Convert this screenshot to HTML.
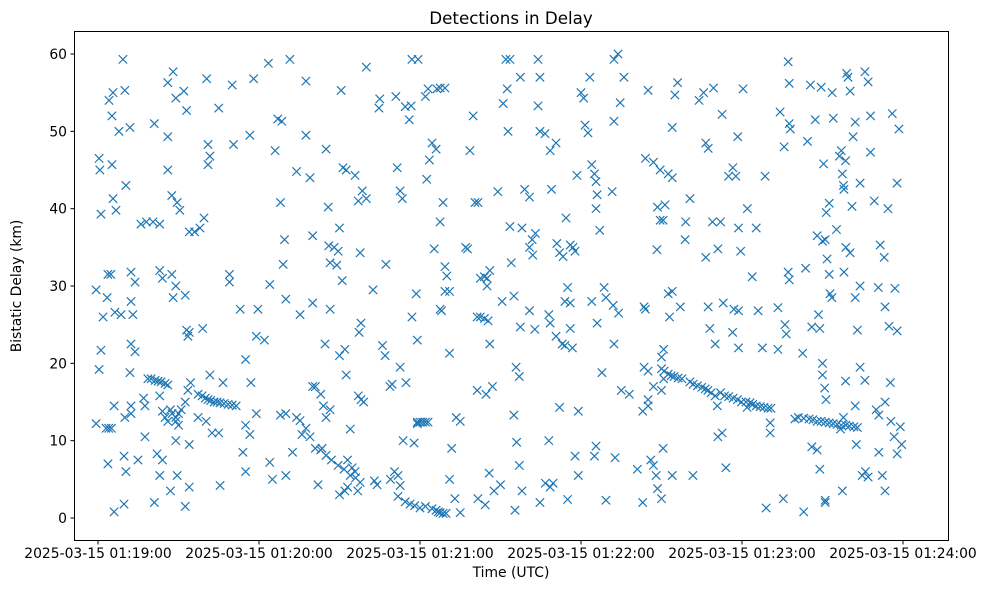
<!DOCTYPE html>
<html><head><meta charset="utf-8">
<style>
html,body{margin:0;padding:0;background:#fff;}
svg text{font-family:"DejaVu Sans","Liberation Sans",sans-serif;fill:#000;}
</style></head>
<body>
<svg id="chart" width="984" height="590" xmlns="http://www.w3.org/2000/svg">
<rect x="0" y="0" width="984" height="590" fill="#fff"/>
<text x="511" y="24" font-size="16.7" text-anchor="middle">Detections in Delay</text>
<g id="marks"></g>
<rect x="74.5" y="31.5" width="874" height="509" fill="none" stroke="#000" stroke-width="1"/>
<g id="xaxis"></g>
<g id="yaxis"></g>
<text x="511" y="577" font-size="13.9" text-anchor="middle">Time (UTC)</text>
<text transform="translate(21,286) rotate(-90)" font-size="13.9" text-anchor="middle">Bistatic Delay (km)</text>
</svg>
<script>
// seconds after 2025-03-15 01:19:00, bistatic delay (km)
const detections = [
[-0.7,29.5],[0.4,46.5],[0.7,45],[1.1,39.3],[1.1,21.7],[0.4,19.2],[-0.7,12.2],[1.9,26],[3.4,28.5],[3.7,31.5],[4.8,31.5],[3,11.6],[4,11.6],[5,11.6],[3.7,7],[4.1,54],[5.2,52],[5.6,55],[5.2,45.7],[5.6,41.3],[6.7,39.8],[6.3,26.6],[6,14.5],[6,0.8],[7.8,50],[9.3,59.3],[10,55.3],[8.6,26.3],[10,13],[9.7,8],[10.4,6],[9.7,1.8],[10.4,43],[11.9,50.5],[12.3,31.8],[12.3,28],[13,26.3],[11.9,18.8],[12.3,22.5],[13.8,21.5],[13.8,30.5],[12.3,14.5],[12.3,13.5],[14.9,7.5],[17.5,10.5],
[16,38],[18,38.3],[20.5,38.3],[23,38],[21,51],[26,56.3],[28,57.7],[29,54.3],[32,55.2],[33,52.7],[26,49.3],[26,45],[27.5,41.7],[29.5,40.8],[30.5,39.8],[34,37],[36,37],[38,37.5],[39.5,38.8],[23,32],[24,31],[27.5,31.5],[29,30],[28,28.5],[32.5,28.8],[33,24.3],[34,24],[33.5,23.5],[39,24.5],[17,15.5],[17.5,14.5],[22,8.3],[24,7.5],[23,5.5],[21,2],[27,3.5],[29.5,5.5],[32.5,1.5],[34,4],[34,9.5],[29,10],[26,12.5],
[18.6,18],[19.8,18],[21.3,17.8],[22.4,17.7],[23.5,17.6],[25,17.4],[26,17.2],[23,15.8],[24,13.8],[25,13],[27,14],[27.6,13.5],[29,13],[30,13.5],[31,14],[32.5,15],[33.5,16.5],[34.5,17.5],[29,12.5],[30,12],
[37.3,16],[38.8,15.8],[40,15.5],[41,15.3],[42,15.2],[43.3,15],[44.4,15],[45.5,14.9],[47,14.8],[48.5,14.7],[50,14.6],[51.5,14.5],[41.7,18.5],[37.3,13],[40.3,12.5],[42.5,11],[45,11],[45.5,4.2],[46.6,17.5],[41,45.7],[41.7,46.8],[41,48.3],[40.5,56.8],[45,53],[50,56],[50.5,48.3],[49,31.5],[49,30.5],[53,27],[55,20.5],[54,8.5],[55,12],[56.6,10.8],[55,6],[56.6,49.5],[58,56.8],[57,17.5],[59,23.5],[59.6,27],[59,13.5],
[62,23],[64,30.2],[63.5,58.8],[66,47.5],[67,51.6],[68.5,51.3],[68,40.8],[69.5,36],[69,32.8],[70,28.3],[68,13.3],[70,13.5],[64,7.2],[65,5],[70,5.5],[71.5,59.3],[74,44.8],[75.3,26.3],[76,10.8],[74,13],[72.5,8.5],[77.5,56.5],[77.5,49.5],[79,44],[80,36.5],[80,27.8],[82,4.3],[85,47.7],[85.8,40.2],[86,35.2],[86.5,33],[86.5,27],[84.6,22.5],[86.5,14],[88,35],[89.5,34.5],[89,32.7],[90.6,55.3],[91.3,45.3],[92.5,45],[90,37.5],[91,30.7],[90,21],[92,21.8],[92.5,18.5],[94,11.5],[95.8,44.3],[97,41],[98.5,42.3],[97.7,34.3],[97.3,24],[98,25.2],[97,15.8],[98,15.3],[99,15],[100,58.3],[100,41.3],[102.5,29.5],[104.7,53],[105,54.2],[106,22.3],[107,21],[107.3,32.8],[108.8,17],[109.6,17.3],[111,54.5],[111.5,45.3],[112.6,42.3],[113.4,41.3],[114.5,53.2],[116,51.5],[116.7,53.3],[117,59.3],[112.6,19.5],[114.8,17.5],[113.7,10],[117,26],[118.6,29],[119,23],[117.8,9.7],[119,12.2],
[75.3,12.6],[77.5,11.6],[79,10.5],[81,9],[83,8.8],[85,8.1],[87,7.5],[89.5,6.8],[91.7,6.3],[94,5.5],[96,5.2],[97.7,4.6],[103,4.8],[104,4.3],[109,5],[110.5,6],[111.8,5.5],[112.6,4.2],[111.8,2.8],[114.5,2.1],[116.3,1.8],[118,1.6],[120,1.3],[122,1.5],[124.5,1.2],[126,1],[126.8,0.8],[127.5,0.7],[128.6,0.6],[129.7,0.6],
[80,17],[81,17],[83,16],[84,14.5],[85,13],[83.5,9],[93,7.5],[94.7,6.5],[95.8,6],[96.8,3.5],[90,3],[92,3.5],[93,4],
[119,12.4],[120,12.4],[121,12.4],[122,12.4],[123,12.4],
[119.3,59.3],[122,54.5],[123,55.5],[124.5,48.5],[126,47.7],[127.5,55.6],[129.3,55.6],[126.3,55.5],[123.5,46.3],[122.5,43.8],[125.3,34.8],[127.5,38.3],[128.6,40.8],[129.3,29.3],[131,29.3],[127.5,27],[129.3,32.5],[130,31.3],[131,21.3],[133.5,13],[135,12.5],[133,2.5],[135,0.7],[131,5],[131.8,9],[128,26.8],[137,35],[137.7,34.8],[138.6,47.5],[139.8,52],[140.5,40.8],[141.6,40.8],[142.5,31],[144,31.2],[145,31],[146,32],[145,30],[141.3,26],[142.5,26],[144,25.8],[145.4,25.5],[146,22.5],[147,17],[144.6,16],[145.8,5.8],[141.3,16.5],[144.3,1.7],[141.6,2.5],[147.6,3.5],[149,42.2],[150.6,28],[150,4.3],[152.5,55.5],[152,59.3],[153.5,59.3],[151,53.6],[152.8,50],[153.5,37.7],[154,33],[155,28.7],[155.8,19.5],[157,18.3],[155,13.3],[156,9.8],[157.4,24.7],[155.4,1],[157,6.8],[158,3.5],[159,42.5],[160.8,41.5],[158,37.5],[160.8,35],[157.4,57],[164.7,57],[164,59.3],[161.8,36],[163,36.8],[162,34],[160.8,26.8],[162.8,24.4],[164,53.3],[164.7,50],[166.6,49.7],[168.5,47.5],[170.7,48.5],[169,42.5],[171,35.5],[172,34.3],[173.3,33.8],[174.4,38.8],[176,35.3],[177,35],[177.8,34.5],[178.5,44.3],[180,55],[181,54.3],[181.5,50.8],[176,27.8],[175,29.8],[176.8,22],[176,24.5],[174,28],[174,22.3],[168,26.3],[168.5,25.2],[170.7,23.5],[173,22.5],[164.7,2],[166.7,4.5],[168.5,4],[169.6,4.5],[168,10],[172,14.3],[175,2.4],[177.8,8],[179,13.8],[179,5.5],
[182.6,49.8],[183.3,57],[184,45.7],[185.6,43.5],[185,44.5],[186,41.8],[185.6,40],[187,37.2],[184,28],[186,25.2],[188.6,29.8],[189.3,28.5],[187.8,18.8],[185.6,9.3],[185,8],[189.3,2.3],[191.6,42.2],[192,27.5],[192.3,22.5],[192.3,59.3],[193.8,60],[192.3,51.3],[194.6,53.7],[196,57],[194,26.5],[195,16.5],[192.7,7.8],[198,16],[201,6.3],[203,2],[204,46.5],[205,55.3],[203,13.8],[205,15.3],[203.5,27.3],[204,27],[203.5,19.5],[205,19],[206,7.5],[208,5.5],[207,6.8],[208.5,3.8],[210,2.5],[207,46],[209.5,45],[208.5,40.2],[209.5,38.5],[210.6,38.5],[208.3,34.7],[211.3,40.5],[212.5,44.5],[214,44],[215,54.7],[216,56.3],[214,50.5],[210.8,21.8],[210,20.8],[210.8,18],[210,16.5],[210.6,9],[212.5,29],[214,29.3],[217,27.3],[218.8,36],[219,38.3],[220.6,41.3],[214,5.5],[221.7,5.5],[224,54],[225.7,55],[226.5,48.5],[227.4,47.8],[229.4,55.6],[232.6,52.2],[226.5,33.7],[227.4,27.3],[228,24.5],[230,22.5],[229,38.3],[231,34.8],[232,38.3],[233,27.8],[231,10.5],[232.6,11],[234,6.5],[235,44.2],[236.6,45.3],[237.7,44.2],[238.4,49.3],[240.4,55.5],[238.7,37.5],[239.5,34.5],[238.7,26.8],[238.7,22],[236.5,24],[237,27],
[210,19.3],[211,19],[212.5,18.6],[213.6,18.4],[214.7,18.3],[216.2,18.1],[217.6,18],[220.6,17.6],[221.8,17.3],[223.4,17.1],[225,16.9],[226.3,16.7],[227.3,16.5],[228.5,16.2],[230,15.8],[230.8,14.5],[232,16.2],[233.5,15.8],[235,15.7],[236.7,15.5],[238.3,15.3],[239.8,15],[241.5,15],[243,14.9],[241.9,14.3],[244,14.7],[245.3,14.5],[246.8,14.4],[248.2,14.3],[249.7,14.2],[250.8,14.2],[213,26],[207,17],[205,14.5],
[242,40],[243.8,31.2],[245.3,37.5],[246,26.8],[247.6,22],[248.6,44.2],[250.5,11],[250.5,12.3],[249,1.3],[253.4,21.8],[253.4,27.2],[254.2,52.5],[255.7,48],[256,25],[255.4,2.5],[257.2,59],[257.6,56.2],[257.6,51],[258,50.3],[257.6,30.8],[257.2,31.8],[256.5,23.8],[262.6,21.3],[263,0.8],[263.7,32.3],[264.4,48.7],[265.5,56],[266,24.7],[267.3,51.5],[268.5,26.3],[268,36.5],[269.5,55.7],[270.4,45.8],[270,35.8],[271,36],[271.7,33.5],[272.5,31.5],[271.4,39.5],[272.5,40.7],[273.6,55],[274,51.7],[270,20],[269,24.5],[270.8,16.8],[271.3,15.3],[270,18.5],[268,8.8],[271,2.3],[275.2,37.3],[272.8,29],[273.5,28.5],[276.3,46.8],[277,47.5],[277.4,44.5],[277.8,43],[278,42.5],[278.6,46.2],[279,57.5],[279.5,57],[280.3,55.2],[278,31.8],[278.7,35],[280.3,34.3],[281,40.3],[281.4,49.3],[282.2,51.2],[284,43.3],[284,30],[282.2,28.5],[283,24.3],[282.6,9.5],[285.8,57.7],[287,56.4],[287.9,47.3],[287.9,52],[289.3,41],[290.8,29.8],[291.5,35.3],[293,33.7],[293.3,27.3],[294.8,24.8],[296,52.3],[294.4,40],[295.3,17.5],[293.3,15],[290,14],[291,13.3],[292.3,5.5],[293.3,3.5],[284,19.5],[285.8,17.8],[282.2,14.5],[284.8,5.5],[286,6],[287,5.3],[291,8.5],[295.5,12.5],[296.7,10.5],[297.8,8.3],[299,11.8],[299.5,9.5],[297.8,24.2],[297,29.7],[297.8,43.3],[298.5,50.3],[278.6,17.7],[277.4,3.5],[277.8,13],[276.7,11.5],
[261,13],[263,12.9],[265,12.8],[266.4,12.7],[268,12.5],[269.5,12.5],[271,12.4],[272.5,12.3],[274,12.2],[275.5,12.1],[277,12],[278.7,12],[280,11.9],[281.7,11.8],[283,11.7],[259.7,12.8],[266,9.2],[269,6.3],[271,2]
];
const timeSec = detections.map(d => d[0]);
const delayKm = detections.map(d => d[1]);
const xTickSec = [0, 60, 120, 180, 240, 300];
const xTickLabels = ["2025-03-15 01:19:00","2025-03-15 01:20:00","2025-03-15 01:21:00","2025-03-15 01:22:00","2025-03-15 01:23:00","2025-03-15 01:24:00"];
const yTicks = [0, 10, 20, 30, 40, 50, 60];

const NS = "http://www.w3.org/2000/svg";
function xScale(s){ return 98 + s * (161/60); }
function yScale(k){ return 518 - k * 7.733; }

const marks = document.getElementById('marks');
for (let i = 0; i < timeSec.length; i++) {
  const cx = xScale(timeSec[i]), cy = yScale(delayKm[i]), r = 4.2;
  const p = document.createElementNS(NS, 'path');
  p.setAttribute('d', `M${cx-r},${cy-r}L${cx+r},${cy+r}M${cx-r},${cy+r}L${cx+r},${cy-r}`);
  p.setAttribute('stroke', '#1f77b4');
  p.setAttribute('stroke-width', '1.2');
  p.setAttribute('fill', 'none');
  
  
  marks.appendChild(p);
}

const xaxis = document.getElementById('xaxis');
xTickSec.forEach((s, i) => {
  const x = xScale(s);
  const t = document.createElementNS(NS, 'line');
  t.setAttribute('x1', x); t.setAttribute('x2', x);
  t.setAttribute('y1', 540.5); t.setAttribute('y2', 544.5);
  t.setAttribute('stroke', '#000');
  
  
  xaxis.appendChild(t);
  const tx = document.createElementNS(NS, 'text');
  tx.setAttribute('x', x); tx.setAttribute('y', 558);
  tx.setAttribute('font-size', '13.9');
  tx.setAttribute('text-anchor', 'middle');
  tx.textContent = xTickLabels[i];
  
  
  xaxis.appendChild(tx);
});

const yaxis = document.getElementById('yaxis');
yTicks.forEach(v => {
  const y = yScale(v);
  const t = document.createElementNS(NS, 'line');
  t.setAttribute('x1', 70.5); t.setAttribute('x2', 74.5);
  t.setAttribute('y1', y); t.setAttribute('y2', y);
  t.setAttribute('stroke', '#000');
  
  
  yaxis.appendChild(t);
  const tx = document.createElementNS(NS, 'text');
  tx.setAttribute('x', 67); tx.setAttribute('y', y + 5);
  tx.setAttribute('font-size', '13.9');
  tx.setAttribute('text-anchor', 'end');
  tx.textContent = String(v);
  
  
  yaxis.appendChild(tx);
});
</script>
</body></html>
